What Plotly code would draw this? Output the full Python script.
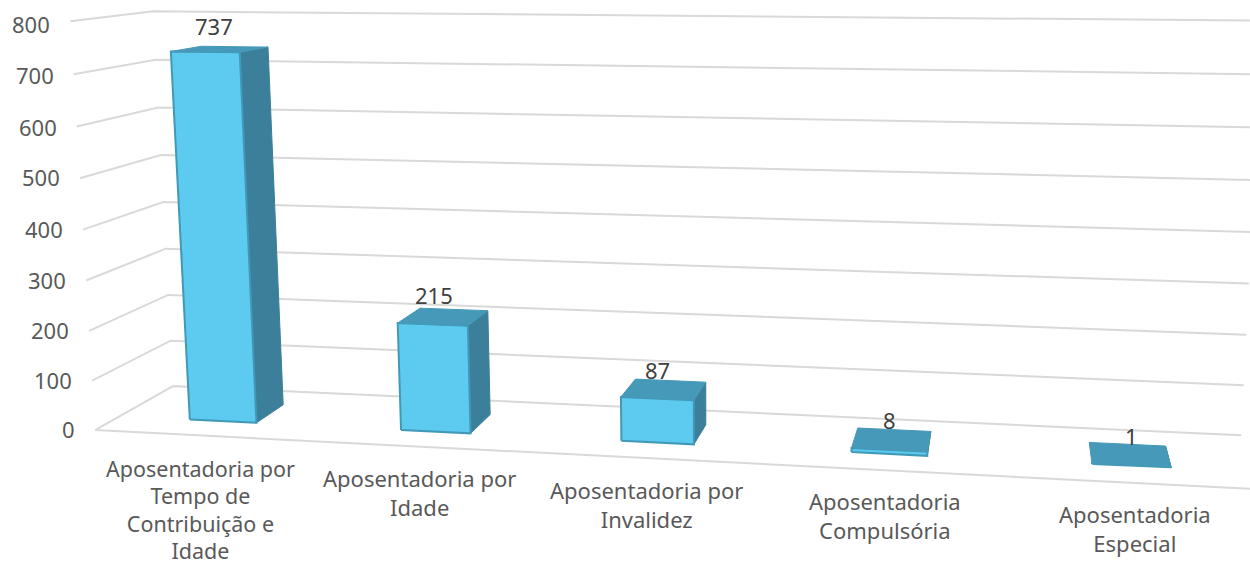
import numpy as np
import plotly.graph_objects as go

categories = [
    "Aposentadoria por<br>Tempo de<br>Contribuição e<br>Idade",
    "Aposentadoria por<br>Idade",
    "Aposentadoria por<br>Invalidez",
    "Aposentadoria<br>Compulsória",
    "Aposentadoria<br>Especial",
]
values = [737, 215, 87, 8, 1]
tick_values = [0, 100, 200, 300, 400, 500, 600, 700, 800]

VMAX = 800.0
NCAT = 5.0
BAR_L, BAR_R = 0.34, 0.66
BAR_F, BAR_B = 0.30, 0.70

# View calibration of the 3-D chart box: (category, depth, value) -> page pixel
view_world = [
    (0,0,0),(0,0,100),(0,0,600),(0,0,700),(0,0,800),
    (0,1,0),(0,1,100),(0,1,600),(0,1,700),(0,1,800),(5,1,0),
    (.34,.3,0),(.66,.3,0),(.66,.7,0),
    (1.34,.3,0),(1.66,.3,0),(1.66,.7,0),
    (2.34,.3,0),(2.66,.3,0),(2.66,.7,0),
    (.34,.3,737),(.66,.3,737),(.66,.7,737),(.34,.7,737),
    (1.34,.3,215),(1.66,.3,215),(1.66,.7,215),(1.34,.7,215),
    (2.34,.3,87),(2.66,.3,87),(2.66,.7,87),(2.34,.7,87),
    (3.34,.3,8),(3.66,.3,8),(3.66,.7,8),(3.34,.7,8),
    (4.34,.3,1),(4.66,.3,1),(4.66,.7,1),(4.34,.7,1),
]
view_page = [
    (95,430),(91,381),(77,126),(74,74),(71,20),
    (173,386),(172,341),(158,108),(157,60),(150,12),(1242,436),
    (190,420),(256,423),(283,405),
    (401,430),(470,433),(490,415),
    (622,440),(693,444),(706,425),
    (172,52),(240,53),(269,47),(200,46),
    (398,323),(467,326),(488,310),(421,308),
    (622,397),(693,400),(706,381),(636,378),
    (852,449),(927,455),(931,431),(857,427),
    (1092,463),(1171,468),(1165,445),(1089,442),
]

def fit_view(world, page):
    rows = []
    for (c, d, v), (u, w) in zip(world, page):
        X = [c / NCAT, d, v / VMAX, 1.0]
        u, w = u / 1000.0, w / 1000.0
        rows.append(X + [0, 0, 0, 0] + [-u * k for k in X])
        rows.append([0, 0, 0, 0] + X + [-w * k for k in X])
    _, _, vt = np.linalg.svd(np.array(rows))
    return vt[-1].reshape(3, 4)

P = fit_view(view_world, view_page)

def proj(c, d, v):
    h = P @ np.array([c / NCAT, d, v / VMAX, 1.0])
    return h[0] / h[2] * 1000.0, h[1] / h[2] * 1000.0

fig = go.Figure()

def polyline(points, color, width):
    xy = [proj(*p) for p in points]
    fig.add_trace(go.Scatter(x=[a for a, _ in xy], y=[b for _, b in xy], mode="lines",
                             line=dict(color=color, width=width), hoverinfo="skip"))

def face(points, fill, edge, width=1.5):
    xy = [proj(*p) for p in points + points[:1]]
    fig.add_trace(go.Scatter(x=[a for a, _ in xy], y=[b for _, b in xy], mode="lines",
                             fill="toself", fillcolor=fill,
                             line=dict(color=edge, width=width), hoverinfo="skip"))

GRID = "#D9D9D9"
for t in tick_values:
    polyline([(0, 0, t), (0, 1, t), (NCAT, 1, t)], GRID, 2)
polyline([(0, 0, 0), (NCAT, 0, 0)], GRID, 2)

FRONT, TOP, SIDE, EDGE = "#5DCAF0", "#4699B8", "#3C7F9B", "#4199B8"
for i, v in enumerate(values):
    l, r = i + BAR_L, i + BAR_R
    face([(r, BAR_F, 0), (r, BAR_B, 0), (r, BAR_B, v), (r, BAR_F, v)], SIDE, SIDE, 1)
    face([(l, BAR_F, 0), (r, BAR_F, 0), (r, BAR_F, v), (l, BAR_F, v)], FRONT, EDGE, 2)
    face([(l, BAR_F, v), (r, BAR_F, v), (r, BAR_B, v), (l, BAR_B, v)], TOP, TOP, 1)

FONT = "Noto Sans"
TICK_NUDGE = {800: -4, 700: -2, 600: -1}
VALUE_NUDGE = [-2, 1, 1, 2, 1]
CAT_SHIFT = [-17, -15, -16, -15, -15]
ann = []
for t in tick_values:
    x, y = proj(0, 0, t)
    ann.append(dict(x=x, y=y, text=str(t), xanchor="right", yanchor="middle", xshift=-19,
                    yshift=1 + TICK_NUDGE.get(t, 0),
                    font=dict(family=FONT, size=22, color="#595959")))
for i, v in enumerate(values):
    x = proj(i + 0.5, BAR_F, v / 2)[0]
    y = proj(i + 0.5, BAR_F, v)[1]
    ann.append(dict(x=x, y=y, text=str(v), xanchor="center", yanchor="middle",
                    yshift=28 + VALUE_NUDGE[i],
                    font=dict(family=FONT, size=22, color="#404040")))
for i, c in enumerate(categories):
    x, y = proj(i + 0.5, 0, 0)
    if i == 0:
        # Four-line label: slightly tighter leading so that it stays inside the page
        lines = [f'<span style="font-size:21.5px">{s}</span>' for s in c.split("<br>")]
        text, size, shift = "<br>".join(lines), 21, -18
    else:
        text, size, shift = c, 22, CAT_SHIFT[i]
    ann.append(dict(x=x, y=y, text=text, xanchor="center", yanchor="top", yshift=shift,
                    font=dict(family=FONT, size=size, color="#595959")))
for a in ann:
    a.update(xref="x", yref="y", showarrow=False, align="center", borderpad=0)

fig.update_layout(
    width=1250, height=564, margin=dict(l=0, r=0, t=0, b=0),
    paper_bgcolor="white", plot_bgcolor="white", showlegend=False, annotations=ann,
    xaxis=dict(range=[0, 1250], visible=False, fixedrange=True),
    yaxis=dict(range=[564, 0], visible=False, fixedrange=True),
)
fig.write_html("out.html", config={"displayModeBar": False},
               post_script="document.body.style.margin='0';document.body.style.overflow='hidden';")
